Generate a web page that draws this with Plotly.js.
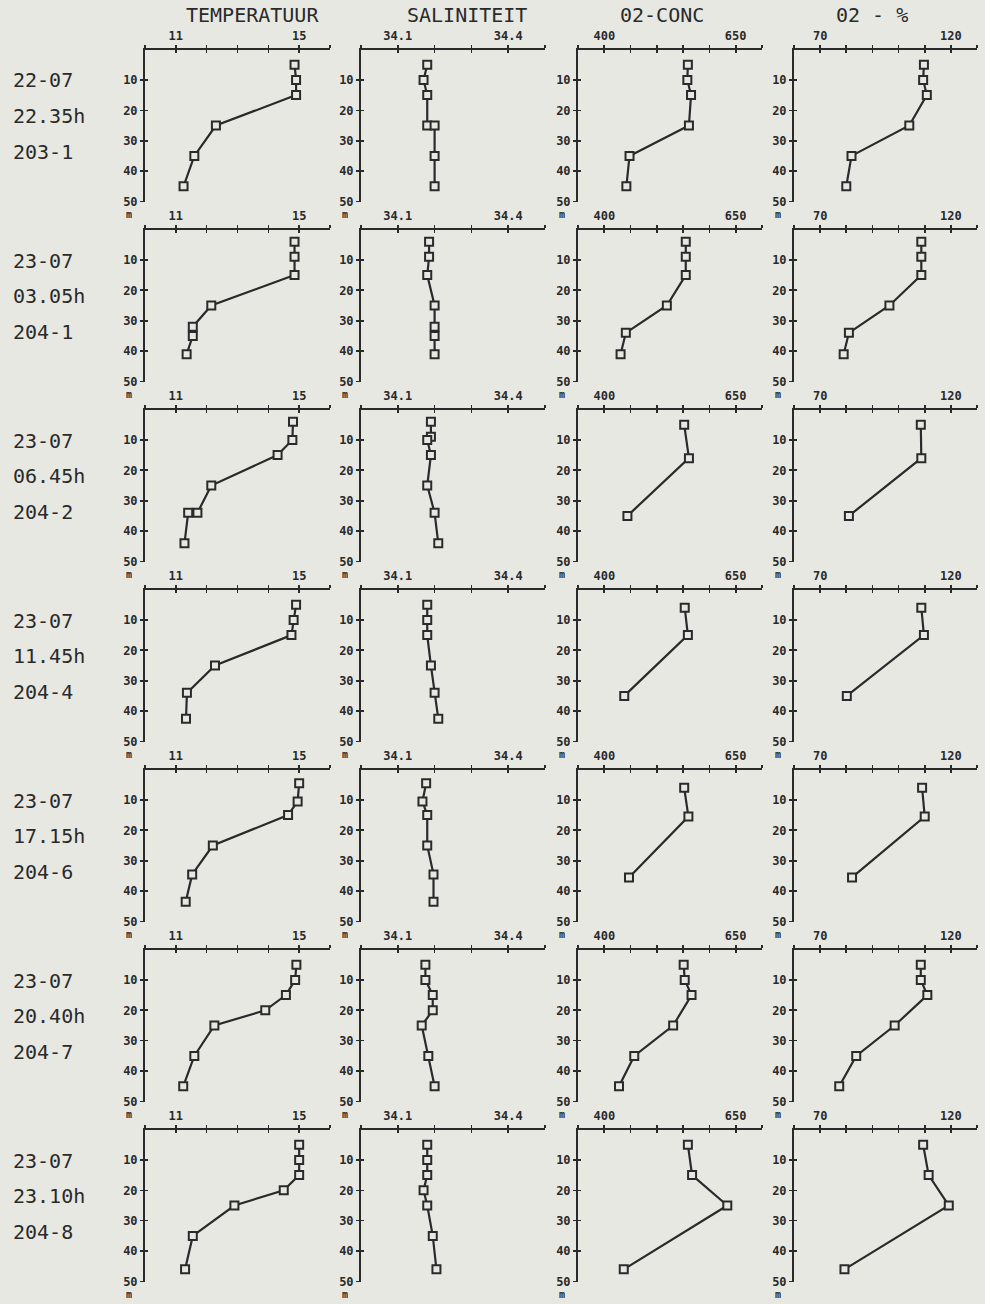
<!DOCTYPE html>
<html>
<head>
<meta charset="utf-8">
<script src="https://cdn.plot.ly/plotly-3.0.1.min.js"></script>
<style>html,body{margin:0;padding:0;background:#e8e8e3;}</style>
</head>
<body>
<div id="chart" style="width:985px;height:1304px;"></div>
<script>
// ---------------- DATA ----------------
const columnTitles = ["TEMPERATUUR", "SALINITEIT", "02-CONC", "02 - %"];
const stationDates = ["22-07", "23-07", "23-07", "23-07", "23-07", "23-07", "23-07"];
const stationTimes = ["22.35h", "03.05h", "06.45h", "11.45h", "17.15h", "20.40h", "23.10h"];
const stationIds   = ["203-1", "204-1", "204-2", "204-4", "204-6", "204-7", "204-8"];

const tempTickLabels = [11, 15];
const salTickLabels  = [34.1, 34.4];
const o2cTickLabels  = [400, 650];
const o2pTickLabels  = [70, 120];
const depthTickLabels = [10, 20, 30, 40, 50];

// station 203-1
const depth1 = [5, 10, 15, 25, 35, 45];
const temp1 = [14.85, 14.9, 14.9, 12.3, 11.6, 11.25];
const salDepth1 = [5, 10, 15, 25, 25, 35, 45];
const sal1 = [34.18, 34.17, 34.18, 34.18, 34.20, 34.20, 34.20];
const o2Depth1 = [5, 10, 15, 25, 35, 45];
const o2c1 = [559, 558, 565, 561, 448, 442];
const o2p1 = [109.7, 109.4, 110.8, 104.1, 82, 80];

// station 204-1
const depth2 = [4, 9, 15, 25, 32, 35, 41];
const temp2 = [14.85, 14.85, 14.85, 12.15, 11.55, 11.55, 11.35];
const salDepth2 = [4, 9, 15, 25, 32, 35, 41];
const sal2 = [34.185, 34.185, 34.18, 34.20, 34.20, 34.20, 34.20];
const o2Depth2 = [4, 9, 15, 25, 34, 41];
const o2c2 = [555, 555, 555, 519, 441, 431];
const o2p2 = [108.7, 108.7, 108.7, 96.5, 81, 79];

// station 204-2
const depth3 = [4, 10, 15, 25, 34, 34, 44];
const temp3 = [14.8, 14.78, 14.3, 12.15, 11.7, 11.4, 11.28];
const salDepth3 = [4, 9, 10, 15, 25, 34, 44];
const sal3 = [34.19, 34.19, 34.18, 34.19, 34.18, 34.20, 34.21];
const o2Depth3 = [5, 16, 35];
const o2c3 = [552, 561, 444];
const o2p3 = [108.5, 108.7, 81];

// station 204-4
const depth4 = [5, 10, 15, 25, 34, 42.5];
const temp4 = [14.9, 14.82, 14.75, 12.27, 11.36, 11.33];
const salDepth4 = [5, 10, 15, 25, 34, 42.5];
const sal4 = [34.18, 34.18, 34.18, 34.19, 34.20, 34.21];
const o2Depth4 = [6, 15, 35];
const o2c4 = [553, 559, 438];
const o2p4 = [108.7, 109.7, 80.2];

// station 204-6
const depth5 = [4.5, 10.5, 15, 25, 34.5, 43.5];
const temp5 = [15.0, 14.95, 14.64, 12.2, 11.53, 11.32];
const salDepth5 = [4.5, 10.5, 15, 25, 34.5, 43.5];
const sal5 = [34.177, 34.167, 34.18, 34.18, 34.197, 34.197];
const o2Depth5 = [6, 15.5, 35.5];
const o2c5 = [552, 560, 447];
const o2p5 = [109, 110, 82.2];

// station 204-7
const depth6 = [5, 10, 15, 20, 25, 35, 45];
const temp6 = [14.91, 14.87, 14.57, 13.9, 12.25, 11.6, 11.24];
const salDepth6 = [5, 10, 15, 20, 25, 35, 45];
const sal6 = [34.175, 34.175, 34.195, 34.195, 34.165, 34.183, 34.20];
const o2Depth6 = [5, 10, 15, 25, 35, 45];
const o2c6 = [551, 553, 566, 531, 457, 428];
const o2p6 = [108.5, 108.5, 111, 98.5, 83.8, 77.3];

// station 204-8
const depth7 = [5, 10, 15, 20, 25, 35, 46];
const temp7 = [15.0, 15.0, 15.0, 14.5, 12.9, 11.55, 11.3];
const salDepth7 = [5, 10, 15, 20, 25, 35, 46];
const sal7 = [34.18, 34.18, 34.18, 34.17, 34.18, 34.195, 34.205];
const o2Depth7 = [5, 15, 25, 46];
const o2c7 = [559, 567, 634, 437];
const o2p7 = [109.4, 111.5, 119.2, 79.3];

// ---------------- BUILD ----------------
const panelSeries = [
  [[temp1, depth1], [sal1, salDepth1], [o2c1, o2Depth1], [o2p1, o2Depth1]],
  [[temp2, depth2], [sal2, salDepth2], [o2c2, o2Depth2], [o2p2, o2Depth2]],
  [[temp3, depth3], [sal3, salDepth3], [o2c3, o2Depth3], [o2p3, o2Depth3]],
  [[temp4, depth4], [sal4, salDepth4], [o2c4, o2Depth4], [o2p4, o2Depth4]],
  [[temp5, depth5], [sal5, salDepth5], [o2c5, o2Depth5], [o2p5, o2Depth5]],
  [[temp6, depth6], [sal6, salDepth6], [o2c6, o2Depth6], [o2p6, o2Depth6]],
  [[temp7, depth7], [sal7, salDepth7], [o2c7, o2Depth7], [o2p7, o2Depth7]]
];
const tickLabelSets = [tempTickLabels, salTickLabels, o2cTickLabels, o2pTickLabels];
const tickFormat = [v => String(v), v => v.toFixed(1), v => String(v), v => String(v)];

const W = 985, H = 1304;
const BG = '#e8e8e3';
const INK = '#2a2a2a';
const FONT = 'DejaVu Sans Mono, Liberation Mono, monospace';
const colX = [[145, 330], [361, 545], [578, 762], [794, 977]];
const xRanges = [[10, 16], [34.0, 34.5], [350, 700], [60, 130]];
const xSteps = [1, 0.1, 50, 10];
const rowTop0 = 49.5, rowStep = 180, plotH = 152;
const NP = 28;

const traces = [];
const layout = {
  width: W, height: H,
  margin: {l: 0, r: 0, t: 0, b: 0},
  paper_bgcolor: BG, plot_bgcolor: 'rgba(0,0,0,0)',
  showlegend: false,
  font: {family: FONT, color: INK},
  annotations: []
};

function px2x(p) { return p / W; }
function px2y(p) { return 1 - p / H; }

for (let r = 0; r < 7; r++) {
  const top = rowTop0 + r * rowStep;
  const bottom = top + plotH;
  for (let c = 0; c < 4; c++) {
    const n = r * 4 + c + 1;
    const n2 = n + NP;
    const [lo, hi] = xRanges[c];
    const steps = Math.round((hi - lo) / xSteps[c]);
    const tv = [], tt = [];
    for (let i = 0; i <= steps; i++) {
      const v = +(lo + i * xSteps[c]).toFixed(4);
      tv.push(v);
      const lab = tickLabelSets[c].find(L => Math.abs(L - v) < 1e-6);
      tt.push(lab !== undefined ? tickFormat[c](lab) : '');
    }
    const xdom = [px2x(colX[c][0]), px2x(colX[c][1])];
    const ydom = [px2y(bottom), px2y(top)];
    const common = {showgrid: false, zeroline: false, fixedrange: true,
                    linecolor: INK, tickcolor: INK, tickwidth: 1.6, ticklen: 3};
    layout['xaxis' + n] = Object.assign({}, common, {
      domain: xdom, range: [lo, hi], anchor: 'y' + n, side: 'top',
      showline: true, linewidth: 2, ticks: 'outside',
      tickmode: 'array', tickvals: tv, ticktext: tt,
      tickfont: {family: FONT, size: 12, color: INK, weight: 700}
    });
    layout['yaxis' + n] = Object.assign({}, common, {
      domain: ydom, range: [50, 0], anchor: 'x' + n,
      showline: true, linewidth: 2, ticks: 'outside',
      tickmode: 'array', tickvals: depthTickLabels, ticktext: depthTickLabels.map(String),
      tickfont: {family: FONT, size: 12, color: INK, weight: 700}
    });
    // overlay axes so the ticks cross the axis lines
    layout['xaxis' + n2] = Object.assign({}, common, {
      overlaying: 'x' + n, range: [lo, hi], anchor: 'y' + n, side: 'top',
      showline: false, ticks: 'inside', tickmode: 'array', tickvals: tv,
      showticklabels: false
    });
    layout['yaxis' + n2] = Object.assign({}, common, {
      overlaying: 'y' + n, range: [50, 0], anchor: 'x' + n, side: 'left',
      showline: false, ticks: 'inside', tickmode: 'array', tickvals: depthTickLabels,
      showticklabels: false
    });
    traces.push({x: [null], y: [null], xaxis: 'x' + n2, yaxis: 'y' + n2,
                 mode: 'markers', hoverinfo: 'skip', showlegend: false});

    const [vals, deps] = panelSeries[r][c];
    traces.push({
      x: vals, y: deps, xaxis: 'x' + n, yaxis: 'y' + n,
      mode: 'lines+markers', cliponaxis: false,
      line: {color: INK, width: 2.2},
      marker: {symbol: 'square', size: 8, color: BG, line: {color: INK, width: 2}},
      hoverinfo: 'x+y'
    });

    // small unit label "m" under the depth axis
    layout.annotations.push({
      xref: 'paper', yref: 'paper', x: px2x(colX[c][0] - 16), y: px2y(bottom + 13),
      text: 'm', showarrow: false, xanchor: 'center', yanchor: 'middle',
      font: {family: FONT, size: 10, color: INK, weight: 700}
    });
  }
  // station labels at left
  [stationDates[r], stationTimes[r], stationIds[r]].forEach((txt, k) => {
    layout.annotations.push({
      xref: 'paper', yref: 'paper', x: px2x(11), y: px2y(top + 31 + k * 35.5),
      text: txt, showarrow: false, xanchor: 'left', yanchor: 'middle',
      font: {family: FONT, size: 20, color: INK}
    });
  });
}

// column titles
const titleCenters = [252, 467, 662, 872];
columnTitles.forEach((t, c) => {
  layout.annotations.push({
    xref: 'paper', yref: 'paper', x: px2x(titleCenters[c]), y: px2y(15),
    text: t, showarrow: false, xanchor: 'center', yanchor: 'middle',
    font: {family: FONT, size: 20, color: INK}
  });
});

Plotly.newPlot('chart', traces, layout, {staticPlot: true, displayModeBar: false});
</script>
</body>
</html>
